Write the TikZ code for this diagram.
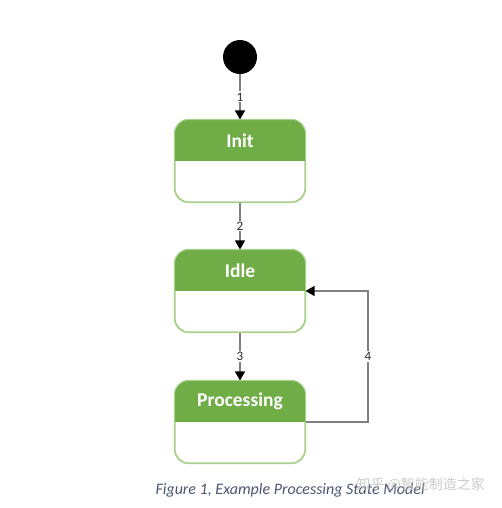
\documentclass[tikz,border=0pt]{standalone}
\usepackage{fontspec}
\setmainfont{Carlito}
\newfontfamily\cjkfont{Noto Sans CJK SC}
\usetikzlibrary{arrows.meta}
\definecolor{hdrgreen}{HTML}{70AD47}
\definecolor{bordergreen}{HTML}{A9D18E}
\definecolor{linegray}{HTML}{808080}
\definecolor{captionblue}{HTML}{4A5870}
\tikzset{
  statebox/.style={draw=bordergreen, line width=1.1pt, rounded corners=14pt,
    minimum width=130pt, minimum height=82pt, inner sep=0pt, fill=white},
  statetitle/.style={text=white, font=\fontsize{19.5}{22}\selectfont\bfseries, inner sep=0pt},
  flow/.style={draw=linegray, line width=1.2pt,
    -{Triangle[width=10pt,length=9pt,color=black]}},
  numlabel/.style={fill=white, text=black!85, font=\fontsize{13}{14}\selectfont, inner sep=1.2pt},
  startdot/.style={circle, fill=black, minimum size=34pt, inner sep=0pt}
}
\newcommand{\headerfill}[1]{%
  \begin{scope}
    \clip[rounded corners=14pt] (#1.north west) rectangle (#1.south east);
    \fill[hdrgreen] (#1.north west) rectangle ([yshift=-42pt]#1.north east);
  \end{scope}
  \draw[draw=bordergreen, line width=1.1pt, rounded corners=14pt] (#1.north west) rectangle (#1.south east);
}
\begin{document}
\begin{tikzpicture}[x=1pt,y=-1pt]
\useasboundingbox (0,0) rectangle (502,508);
\fill[white] (0,0) rectangle (502,508);

\node[startdot] (start) at (240,57) {};

\node[statebox] (init) at (240,161) {};
\headerfill{init}
\node[statetitle] (initT) at ([yshift=-21pt]init.north) {Init};

\node[statebox] (idle) at (240,291) {};
\headerfill{idle}
\node[statetitle] (idleT) at ([yshift=-21pt]idle.north) {Idle};

\node[statebox] (proc) at (240,422) {};
\headerfill{proc}
\node[statetitle] (procT) at ([yshift=-21pt]proc.north) {Processing};

\draw[flow] (start) -- node[numlabel] (l1) {1} (init.north);
\draw[flow] (init.south) -- node[numlabel] (l2) {2} (idle.north);
\draw[flow] (idle.south) -- node[numlabel] (l3) {3} (proc.north);
\coordinate (c4a) at (368,422);
\coordinate (c4b) at (368,291);
\draw[flow] (proc.east) -- (c4a) -- node[numlabel, pos=0.5] (l4) {4} (c4b) -- (idle.east);

\node[text=captionblue, font=\fontsize{16}{18}\selectfont\itshape, anchor=west] (caption) at (152,490) {Figure 1, Example Processing State Model};
\node[text=black!25, font=\cjkfont\fontsize{14}{16}\selectfont, anchor=west, opacity=0.8] (wm) at (353,485) {知乎 @智能制造之家};
\end{tikzpicture}
\end{document}
